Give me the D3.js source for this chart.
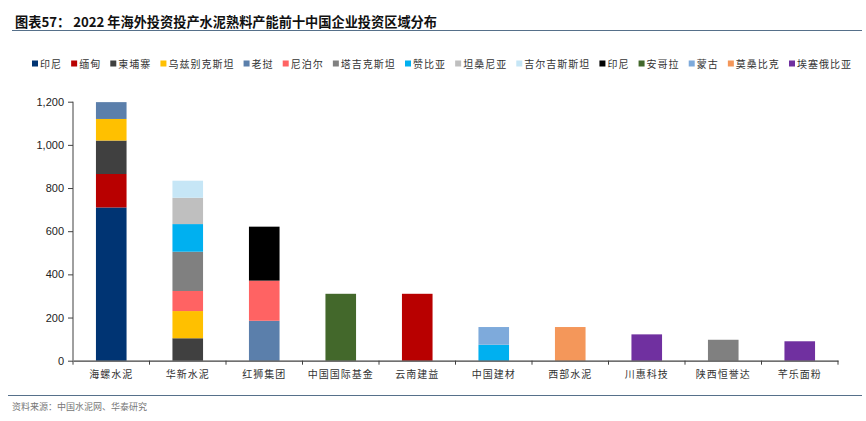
<!DOCTYPE html>
<html>
<head>
<meta charset="utf-8">
<script src="https://cdn.jsdelivr.net/npm/d3@7"></script>
<style>
  body { margin: 0; background: #fff; }
  svg { display: block; }
  .cjk { font-family: "Noto Sans CJK SC", sans-serif; }
</style>
</head>
<body>
<div id="chart-area"></div>
<script>
// companies along the x axis
var companies = ["海螺水泥", "华新水泥", "红狮集团", "中国国际基金", "云南建益",
                 "中国建材", "西部水泥", "川惠科技", "陕西恒誉达", "芊乐面粉"];

// legend entries (印尼 appears twice in the source legend)
var seriesNames  = ["印尼", "缅甸", "柬埔寨", "乌兹别克斯坦", "老挝", "尼泊尔", "塔吉克斯坦",
                    "赞比亚", "坦桑尼亚", "吉尔吉斯斯坦", "印尼", "安哥拉", "蒙古", "莫桑比克", "埃塞俄比亚"];
var seriesColors = ["#003473", "#b80000", "#404040", "#ffc000", "#5b7fab", "#ff6363", "#808080",
                    "#00b0f0", "#bfbfbf", "#c6e6f6", "#000000", "#43682b", "#7eaadb", "#f4975a", "#7030a0"];

// capacity (10k t) per series, one value per company
var indonesia  = [710, 0, 0, 0, 0, 0, 0, 0, 0, 0];
var myanmar    = [155, 0, 0, 0, 310, 0, 0, 0, 0, 0];
var cambodia   = [155, 104, 0, 0, 0, 0, 0, 0, 0, 0];
var uzbekistan = [100, 126, 0, 0, 0, 0, 0, 0, 0, 0];
var laos       = [78, 0, 185, 0, 0, 0, 0, 0, 0, 0];
var nepal      = [0, 93, 186, 0, 0, 0, 0, 0, 0, 0];
var tajikistan = [0, 182, 0, 0, 0, 0, 0, 0, 97, 0];
var zambia     = [0, 128, 0, 0, 0, 74, 0, 0, 0, 0];
var tanzania   = [0, 122, 0, 0, 0, 0, 0, 0, 0, 0];
var kyrgyzstan = [0, 79, 0, 0, 0, 0, 0, 0, 0, 0];
var indonesia2 = [0, 0, 250, 0, 0, 0, 0, 0, 0, 0];
var angola     = [0, 0, 0, 310, 0, 0, 0, 0, 0, 0];
var mongolia   = [0, 0, 0, 0, 0, 82, 0, 0, 0, 0];
var mozambique = [0, 0, 0, 0, 0, 0, 156, 0, 0, 0];
var ethiopia   = [0, 0, 0, 0, 0, 0, 0, 122, 0, 90];

var yTicks = [0, 200, 400, 600, 800, 1000, 1200];

var seriesValues = [indonesia, myanmar, cambodia, uzbekistan, laos, nepal, tajikistan,
                    zambia, tanzania, kyrgyzstan, indonesia2, angola, mongolia, mozambique, ethiopia];

var W = 866, H = 421;
var margin = { top: 101.7, bottom: 60.3, left: 73, right: 28 };
var width  = W - margin.left - margin.right;
var height = H - margin.top - margin.bottom;

var svg = d3.select("#chart-area")
    .append("svg")
        .attr("width", W)
        .attr("height", H);

// title + rule
svg.append("text")
    .attr("class", "cjk")
    .attr("x", 15)
    .attr("y", 27)
    .attr("font-size", "13.5px")
    .attr("font-weight", "bold")
    .attr("fill", "#111")
    .attr("textLength", 422)
    .attr("lengthAdjust", "spacingAndGlyphs")
    .text("图表57： 2022 年海外投资投产水泥熟料产能前十中国企业投资区域分布");

svg.append("line")
    .attr("x1", 12).attr("x2", 862)
    .attr("y1", 30.5).attr("y2", 30.5)
    .attr("stroke", "#56708a")
    .attr("stroke-width", 1.2);

// footer
svg.append("line")
    .attr("x1", 8).attr("x2", 862)
    .attr("y1", 395.5).attr("y2", 395.5)
    .attr("stroke", "#56708a")
    .attr("stroke-width", 1);

svg.append("text")
    .attr("class", "cjk")
    .attr("x", 12)
    .attr("y", 410)
    .attr("font-size", "9px")
    .attr("fill", "#777")
    .text("资料来源：中国水泥网、华泰研究");

// legend
var legend = svg.append("g").attr("class", "legend");
var items = legend.selectAll("g")
    .data(seriesNames)
    .enter()
    .append("g");

items.append("rect")
    .attr("y", 60.5)
    .attr("width", 6)
    .attr("height", 6)
    .attr("fill", function(d, i) { return seriesColors[i]; });

items.append("text")
    .attr("class", "cjk")
    .attr("x", 8)
    .attr("y", 67.5)
    .attr("font-size", "10px")
    .attr("fill", "#333")
    .attr("letter-spacing", "1px")
    .text(function(d) { return d; });

var widths = [];
items.each(function() { widths.push(this.getBBox().width); });
var legendStart = 32, legendEnd = 852;
var gap = (legendEnd - legendStart - d3.sum(widths)) / (widths.length - 1);
var pos = legendStart;
items.attr("transform", function(d, i) {
    var t = "translate(" + pos + ",0)";
    pos += widths[i] + gap;
    return t;
});

var g = svg.append("g")
    .attr("transform", "translate(" + margin.left + ", " + margin.top + ")");

// scales
var x = d3.scaleBand()
    .domain(companies)
    .range([0, width])
    .paddingInner(0.6)
    .paddingOuter(0.3);

var y = d3.scaleLinear()
    .domain([0, 1200])
    .range([height, 0]);

// stacked data
var table = companies.map(function(c, j) {
    var row = { company: c };
    seriesValues.forEach(function(vals, i) { row["s" + i] = vals[j]; });
    return row;
});
var keys = seriesNames.map(function(d, i) { return "s" + i; });
var stacked = d3.stack().keys(keys)(table);

var layers = g.selectAll(".layer")
    .data(stacked)
    .enter()
    .append("g")
        .attr("class", "layer")
        .attr("fill", function(d, i) { return seriesColors[i]; });

layers.selectAll("rect")
    .data(function(d) { return d.filter(function(p) { return p[1] - p[0] > 0; }); })
    .enter()
    .append("rect")
        .attr("x", function(d) { return x(d.data.company); })
        .attr("width", x.bandwidth())
        .attr("y", function(d) { return y(d[1]); })
        .attr("height", function(d) { return y(d[0]) - y(d[1]); });

// y axis
var yAxisCall = d3.axisLeft(y)
    .tickValues(yTicks)
    .tickSize(5)
    .tickFormat(d3.format(","));

var yAxis = g.append("g")
    .attr("class", "y-axis")
    .call(yAxisCall);
yAxis.select(".domain").attr("stroke", "#404040").attr("d", "M0," + height + "V0");
yAxis.selectAll(".tick line").attr("stroke", "#404040");
yAxis.selectAll("text")
    .attr("font-family", "'Liberation Sans', Arial, sans-serif")
    .attr("font-size", "11px")
    .attr("fill", "#222")
    .attr("x", -9);

// x axis: labels, then band boundary ticks
var xAxisCall = d3.axisBottom(x).tickSize(0).tickPadding(10);
var xAxis = g.append("g")
    .attr("class", "x-axis")
    .attr("transform", "translate(0, " + height + ")")
    .call(xAxisCall);
xAxis.select(".domain").attr("stroke", "#404040").attr("stroke-width", 1.3);
xAxis.selectAll("text")
    .attr("class", "cjk")
    .attr("font-size", "10px")
    .attr("fill", "#333")
    .attr("letter-spacing", "1px");

var step = x.step();
var bounds = d3.range(companies.length + 1).map(function(i) { return x(companies[0]) - x.bandwidth() * 0 - (step - x.bandwidth()) / 2 + i * step; });
xAxis.selectAll(".bound")
    .data(bounds)
    .enter()
    .append("line")
        .attr("class", "bound")
        .attr("x1", function(d) { return d; })
        .attr("x2", function(d) { return d; })
        .attr("y1", 0)
        .attr("y2", 4)
        .attr("stroke", "#404040");
</script>
</body>
</html>
